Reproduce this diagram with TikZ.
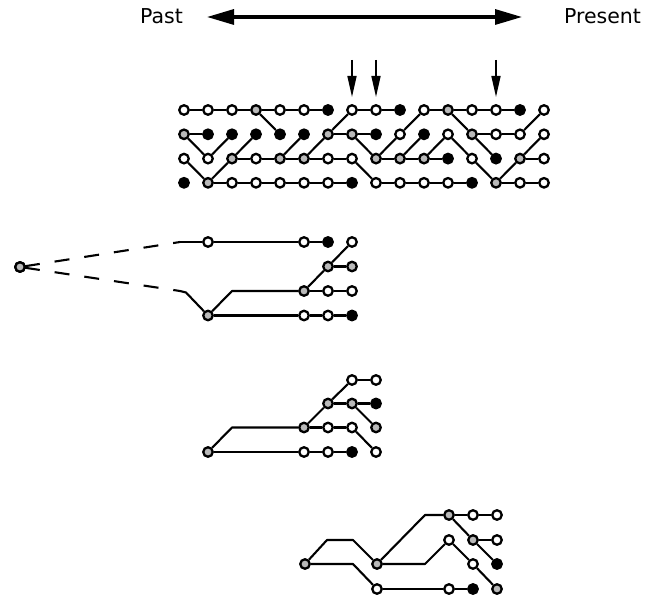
\documentclass[tikz,border=0pt]{standalone}
\usepackage{fontspec}
\setmainfont{DejaVu Sans}
\usetikzlibrary{arrows.meta}
\tikzset{
  nd/.style={circle, draw=black, line width=2.3pt, minimum size=9.5pt, inner sep=0pt},
  op/.style={nd, fill=white},
  ha/.style={nd, fill=gray!55},
  bl/.style={nd, fill=black},
  ln/.style={line width=2.1pt, line join=round},
  dln/.style={line width=2.1pt, dash pattern=on 15pt off 15pt, dash phase=25pt},
  darr/.style={line width=1.6pt, -{Triangle[length=21pt,width=9pt]}},
  lbl/.style={font=\fontsize{20.5}{24}\selectfont, inner sep=0pt},
}
\begin{document}
\begin{tikzpicture}[x=1pt, y=-1pt]
\useasboundingbox (0,0) rectangle (659,599);
% header
\node[lbl] (past) at (161.5,16) {Past};
\node[lbl] (present) at (602.5,16) {Present};
\coordinate (al) at (207,17);
\coordinate (ar) at (522,17);
\draw[line width=3.2pt, {Triangle[length=27pt,width=15pt]}-{Triangle[length=27pt,width=15pt]}] (al) -- (ar);
% grid nodes
\foreach \t [count=\c from 0] in {op,op,op,ha,op,op,bl,op,op,bl,op,ha,op,op,bl,op}
  \node[\t] (g0-\c) at ({184+24*\c},110) {};
\foreach \t [count=\c from 0] in {ha,bl,bl,bl,bl,bl,ha,ha,bl,op,bl,op,ha,op,op,op}
  \node[\t] (g1-\c) at ({184+24*\c},134.3) {};
\foreach \t [count=\c from 0] in {op,op,ha,op,ha,ha,op,op,ha,ha,ha,bl,op,bl,ha,op}
  \node[\t] (g2-\c) at ({184+24*\c},158.6) {};
\foreach \t [count=\c from 0] in {bl,ha,op,op,op,op,op,bl,op,op,op,op,bl,ha,op,op}
  \node[\t] (g3-\c) at ({184+24*\c},182.8) {};
% grid edges
\foreach \a/\b in {0-0/0-1,1-0/1-1,1-0/2-1,2-0/3-1,
  0-1/0-2,2-1/1-2,3-1/2-2,3-1/3-2,
  0-2/0-3,2-2/1-3,2-2/2-3,3-2/3-3,
  0-3/0-4,0-3/1-4,2-3/2-4,3-3/3-4,
  0-4/0-5,2-4/1-5,2-4/2-5,3-4/3-5,
  0-5/0-6,2-5/1-6,2-5/2-6,3-5/3-6,
  1-6/0-7,1-6/1-7,2-6/2-7,3-6/3-7,
  0-7/0-8,1-7/1-8,1-7/2-8,2-7/3-8,
  0-8/0-9,2-8/1-9,2-8/2-9,3-8/3-9,
  1-9/0-10,2-9/1-10,2-9/2-10,3-9/3-10,
  0-10/0-11,2-10/1-11,2-10/2-11,3-10/3-11,
  0-11/0-12,0-11/1-12,1-11/2-12,3-11/3-12,
  0-12/0-13,1-12/1-13,1-12/2-13,2-12/3-13,
  0-13/0-14,1-13/1-14,3-13/2-14,3-13/3-14,
  1-14/0-15,2-14/1-15,2-14/2-15,3-14/3-15}
  \draw[ln] (g\a) -- (g\b);
% down arrows
\coordinate (d1s) at (352,60); \coordinate (d1e) at (352,97);
\coordinate (d2s) at (376,60); \coordinate (d2e) at (376,97);
\coordinate (d3s) at (496,60); \coordinate (d3e) at (496,97);
\draw[darr] (d1s) -- (d1e);
\draw[darr] (d2s) -- (d2e);
\draw[darr] (d3s) -- (d3e);
% tree 1
\node[ha] (r0) at (20,267) {};
\node[op] (t1a0) at (208,242) {};
\node[op] (t1a1) at (304,242) {};
\node[bl] (t1a2) at (328,242) {};
\node[op] (t1a3) at (352,242) {};
\node[ha] (t1b2) at (328,266.5) {};
\node[ha] (t1b3) at (352,266.5) {};
\node[ha] (t1c1) at (304,291) {};
\node[op] (t1c2) at (328,291) {};
\node[op] (t1c3) at (352,291) {};
\node[ha] (t1d0) at (208,315.5) {};
\node[op] (t1d1) at (304,315.5) {};
\node[op] (t1d2) at (328,315.5) {};
\node[bl] (t1d3) at (352,315.5) {};
\coordinate (u1) at (180,242);
\coordinate (u2) at (180,291);
\coordinate (u3) at (186,292.5);
\coordinate (k1) at (232,291);
\draw[dln] (r0.center) -- (u1);
\draw[dln] (r0.center) -- (u2);
\node[ha] at (r0) {};
\draw[ln] (u1) -- (t1a0) -- (t1a1) -- (t1a2);
\draw[ln] (u2) -- (u3) -- (t1d0);
\draw[ln] (t1b2) -- (t1a3);
\draw[ln] (t1b2) -- (t1b3);
\draw[ln] (t1c1) -- (t1b2);
\draw[ln] (t1c1) -- (t1c2) -- (t1c3);
\draw[ln] (t1d0) -- (k1) -- (t1c1);
\draw[ln] (t1d0) -- (t1d1) -- (t1d2) -- (t1d3);
% tree 2
\node[op] (t2a3) at (352,380) {};
\node[op] (t2a4) at (376,380) {};
\node[ha] (t2b2) at (328,403.5) {};
\node[ha] (t2b3) at (352,403.5) {};
\node[bl] (t2b4) at (376,403.5) {};
\node[ha] (t2c1) at (304,427.5) {};
\node[op] (t2c2) at (328,427.5) {};
\node[op] (t2c3) at (352,427.5) {};
\node[ha] (t2c4) at (376,427.5) {};
\node[ha] (t2d0) at (208,452) {};
\node[op] (t2d1) at (304,452) {};
\node[op] (t2d2) at (328,452) {};
\node[bl] (t2d3) at (352,452) {};
\node[op] (t2d4) at (376,452) {};
\coordinate (k2) at (232,427.5);
\draw[ln] (t2a3) -- (t2a4);
\draw[ln] (t2b2) -- (t2a3);
\draw[ln] (t2b2) -- (t2b3) -- (t2b4);
\draw[ln] (t2b3) -- (t2c4);
\draw[ln] (t2c1) -- (t2b2);
\draw[ln] (t2c1) -- (t2c2) -- (t2c3);
\draw[ln] (t2c3) -- (t2d4);
\draw[ln] (t2d0) -- (k2) -- (t2c1);
\draw[ln] (t2d0) -- (t2d1) -- (t2d2) -- (t2d3);
% tree 3
\node[ha] (t3c0) at (305,564) {};
\node[ha] (t3c1) at (377,564) {};
\node[op] (t3d1) at (377,589) {};
\node[op] (t3d2) at (449,589) {};
\node[bl] (t3d3) at (473,589) {};
\node[ha] (t3d4) at (497,589) {};
\node[ha] (t3a2) at (449,515) {};
\node[op] (t3a3) at (473,515) {};
\node[op] (t3a4) at (497,515) {};
\node[op] (t3b2) at (449,540) {};
\node[ha] (t3b3) at (473,540) {};
\node[op] (t3b4) at (497,540) {};
\node[op] (t3c3) at (473,564) {};
\node[bl] (t3c4) at (497,564) {};
\coordinate (m1) at (327,540);
\coordinate (m2) at (353,540);
\coordinate (m3) at (353,564);
\coordinate (m4) at (425,515);
\coordinate (m5) at (425,564);
\draw[ln] (t3c0) -- (m1) -- (m2) -- (t3c1);
\draw[ln] (t3c0) -- (m3) -- (t3d1);
\draw[ln] (t3d1) -- (t3d2) -- (t3d3);
\draw[ln] (t3c1) -- (m4) -- (t3a2);
\draw[ln] (t3c1) -- (m5) -- (t3b2);
\draw[ln] (t3a2) -- (t3a3) -- (t3a4);
\draw[ln] (t3a2) -- (t3b3);
\draw[ln] (t3b3) -- (t3b4);
\draw[ln] (t3b3) -- (t3c4);
\draw[ln] (t3b2) -- (t3c3);
\draw[ln] (t3c3) -- (t3d4);
\end{tikzpicture}
\end{document}
